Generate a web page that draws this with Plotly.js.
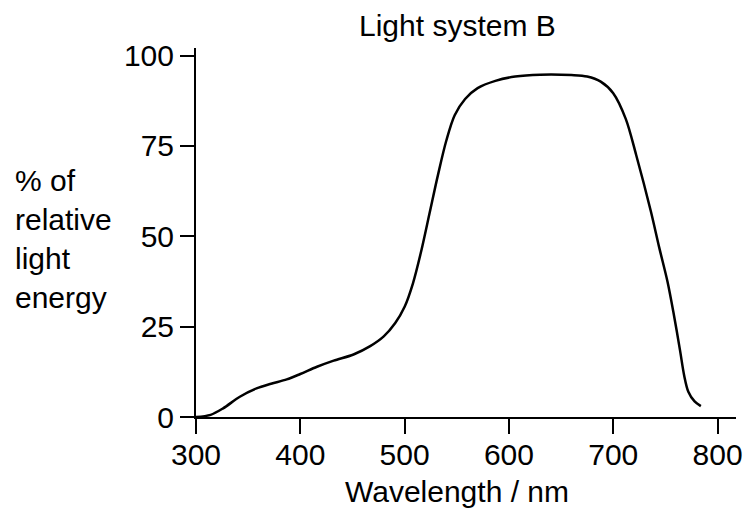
<!DOCTYPE html>
<html>
<head>
<meta charset="utf-8">
<script src="https://cdn.plot.ly/plotly-3.0.1.min.js"></script>
<style>html,body{margin:0;padding:0;background:#fff;}#chart{width:748px;height:511px;}</style>
</head>
<body>
<div id="chart"></div>
<script>
var wavelength = [300, 314, 326, 342, 358, 372, 387, 400, 416, 432, 451, 467, 480, 491, 500, 508, 516, 524, 532, 540, 548, 558, 570, 587, 606, 630, 660, 675, 688, 700, 712, 722, 736, 744, 752, 758, 764, 768, 772, 778, 784];
var energy = [0, 0.6, 2.4, 5.6, 7.9, 9.2, 10.4, 11.9, 13.9, 15.6, 17.3, 19.6, 22.3, 26, 30.5, 37, 46, 56.5, 67, 76.5, 83.5, 88, 91, 93, 94.2, 94.7, 94.6, 94.2, 92.8, 89.6, 82.5, 72.5, 57, 47, 37.5, 28.5, 18.5, 11.5, 7, 4.3, 3.0];
var xTicks = [300, 400, 500, 600, 700, 800];
var yTicks = [0, 25, 50, 75, 100];
var titleText = "Light system B";
var xTitleText = "Wavelength / nm";
var yTitleText = "% of<br>relative<br>light<br>energy";

var font = {family: "Liberation Sans, Arial, sans-serif", size: 30, color: "#000"};

var trace = {
  x: wavelength, y: energy, type: "scatter", mode: "lines",
  line: {color: "#000", width: 2.5, shape: "spline", smoothing: 0.9},
  hoverinfo: "skip"
};

var layout = {
  width: 748, height: 511,
  margin: {l: 196, r: 12, t: 48, b: 94, pad: 0},
  paper_bgcolor: "#fff", plot_bgcolor: "#fff",
  showlegend: false,
  font: font,
  xaxis: {
    range: [300, 817.7], tickvals: xTicks, ticktext: xTicks.map(String),
    showline: true, linecolor: "#000", linewidth: 2,
    ticks: "outside", ticklen: 15, tickwidth: 2, tickcolor: "#000",
    ticklabelstandoff: -5,
    showgrid: false, zeroline: false, tickfont: font, fixedrange: true
  },
  yaxis: {
    range: [0, 102.1], tickvals: yTicks, ticktext: yTicks.map(String),
    showline: true, linecolor: "#000", linewidth: 2,
    ticks: "outside", ticklen: 14, tickwidth: 2, tickcolor: "#000",
    showgrid: false, zeroline: false, tickfont: font, fixedrange: true
  },
  annotations: [
    {text: titleText, xref: "x", yref: "paper", x: 550.5, y: 1.062, xanchor: "center", yanchor: "middle", showarrow: false, font: font},
    {text: xTitleText, xref: "x", yref: "paper", x: 550.5, y: -0.203, xanchor: "center", yanchor: "middle", showarrow: false, font: font},
    {text: yTitleText, xref: "paper", yref: "y", x: -0.339, y: 49.3, xanchor: "left", yanchor: "middle", align: "left", showarrow: false, font: font}
  ]
};

Plotly.newPlot("chart", [trace], layout, {staticPlot: true, displayModeBar: false});
</script>
</body>
</html>
